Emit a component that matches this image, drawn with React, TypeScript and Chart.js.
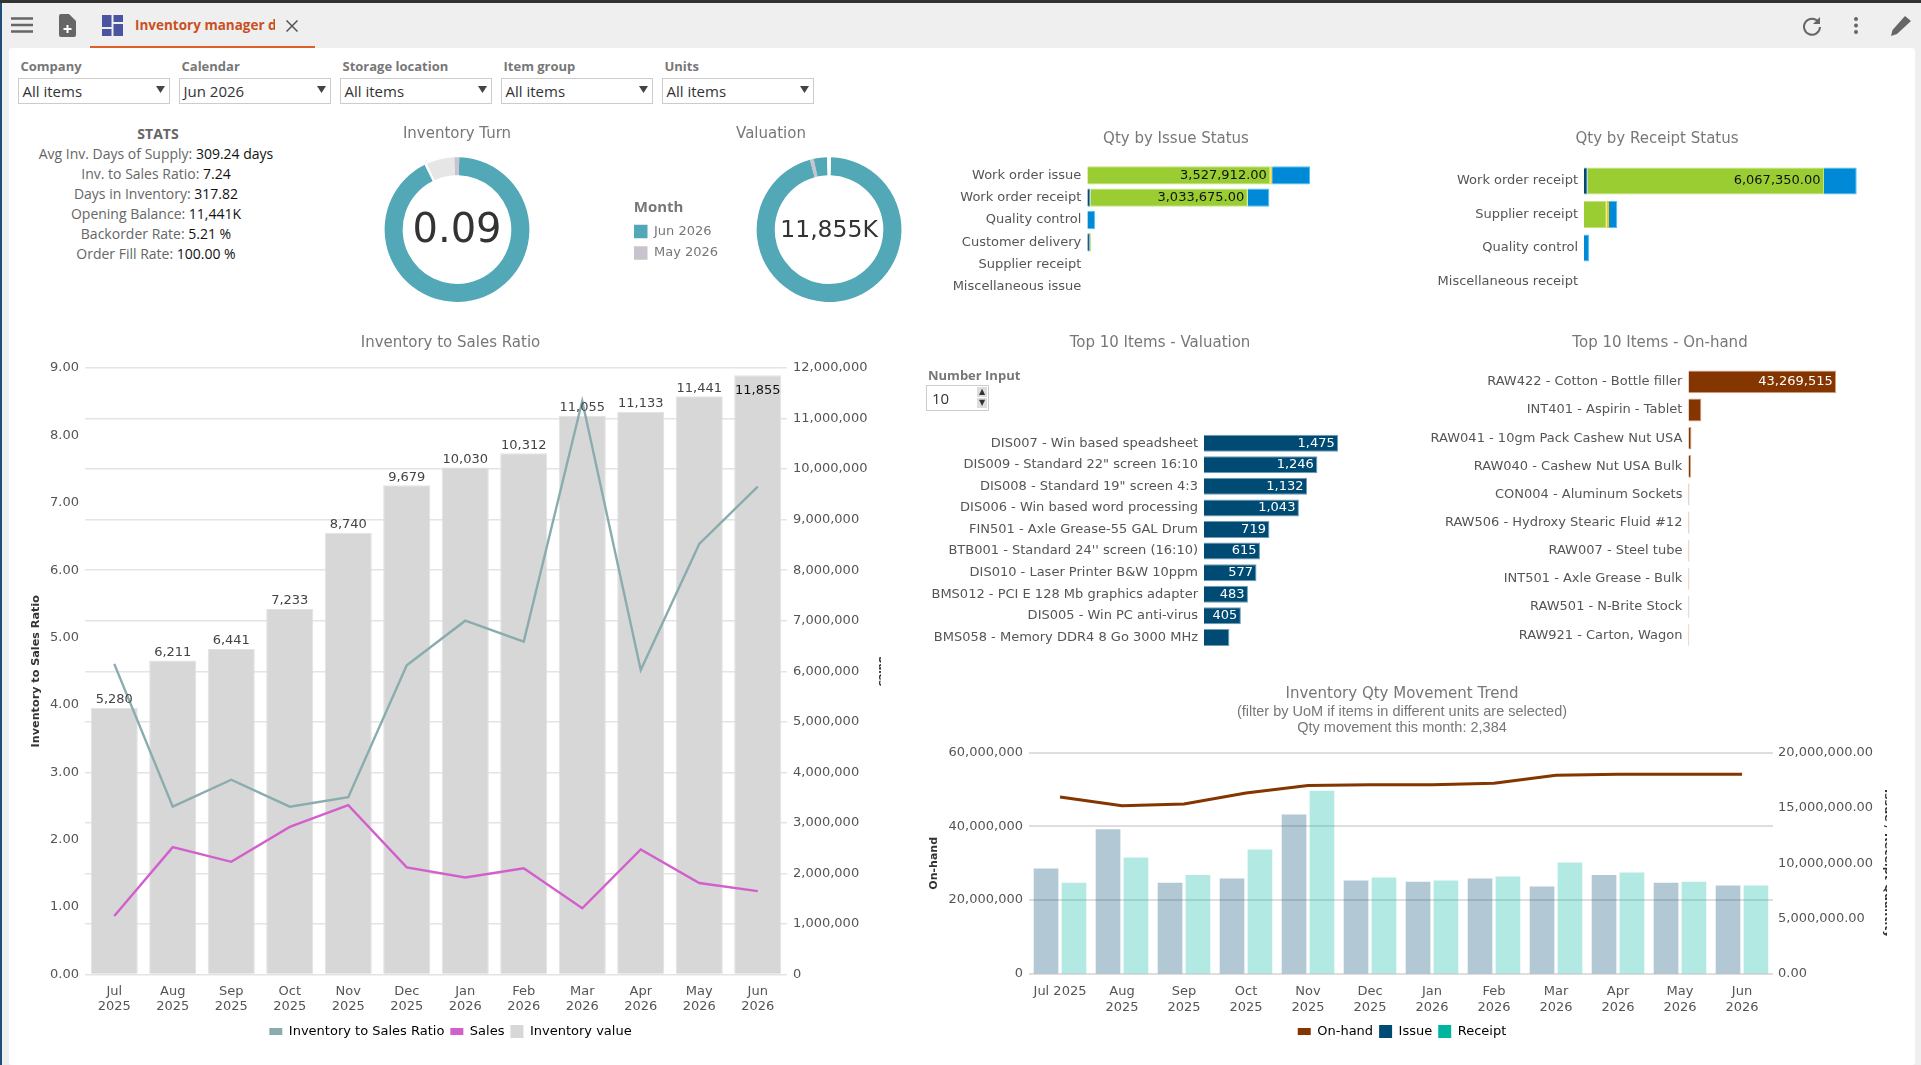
import { useEffect, useRef } from "react"
import { Chart, registerables } from "chart.js"

Chart.register(...registerables)

const FONT = "'DejaVu Sans', sans-serif"
const UI_FONT = "'Open Sans', sans-serif"
Chart.defaults.font.family = FONT
Chart.defaults.font.size = 13
Chart.defaults.color = "#555"

// filters and stats
const filterNames = ["Company", "Calendar", "Storage location", "Item group", "Units"]
const filterValues = ["All items", "Jun 2026", "All items", "All items", "All items"]
const statNames = ["Avg Inv. Days of Supply", "Inv. to Sales Ratio", "Days in Inventory", "Opening Balance", "Backorder Rate", "Order Fill Rate"]
const statValues = ["309.24 days", "7.24", "317.82", "11,441K", "5.21 %", "100.00 %"]

// monthly chart
const months = [["Jul", "2025"], ["Aug", "2025"], ["Sep", "2025"], ["Oct", "2025"], ["Nov", "2025"], ["Dec", "2025"], ["Jan", "2026"], ["Feb", "2026"], ["Mar", "2026"], ["Apr", "2026"], ["May", "2026"], ["Jun", "2026"]]
const ratioValues = [4.61, 2.49, 2.89, 2.49, 2.63, 4.59, 5.25, 4.94, 8.51, 4.52, 6.39, 7.24]
const salesValues = [1158000, 2520000, 2230000, 2920000, 3350000, 2120000, 1920000, 2100000, 1310000, 2475000, 1810000, 1650000]
const inventoryValues = [5280000, 6211000, 6441000, 7233000, 8740000, 9679000, 10030000, 10312000, 11055000, 11133000, 11441000, 11855000]

// donuts
const monthLegend = ["Jun 2026", "May 2026"]
const turnLabels = ["Jun 2026", "", "Rest", "May 2026"]
const turnShares = [331.7, 2, 22.4, 3.9]
const valuationLabels = ["Jun 2026", "May 2026", "Jun 2026", ""]
const valuationShares = [343.2, 3, 10.8, 3]

// issue and receipt status
const issueStatus = ["Work order issue", "Work order receipt", "Quality control", "Customer delivery", "Supplier receipt", "Miscellaneous issue"]
const issueCreated = [0, 60000, 0, 50000, 0, 0]
const issuePosted = [3527912, 3033675, 0, 20000, 0, 0]
const issueMoved = [35000, 0, 0, 0, 0, 0]
const issueOpen = [730000, 416000, 148000, 0, 0, 0]
const receiptStatus = ["Work order receipt", "Supplier receipt", "Quality control", "Miscellaneous receipt"]
const receiptCreated = [92000, 0, 0, 0]
const receiptPosted = [6067350, 582000, 0, 0]
const receiptMoved = [0, 60000, 0, 0]
const receiptOpen = [840000, 213000, 128000, 0]

// top 10
const valuationItems = ["DIS007 - Win based speadsheet", 'DIS009 - Standard 22" screen 16:10', 'DIS008 - Standard 19" screen 4:3', "DIS006 - Win based word processing", "FIN501 - Axle Grease-55 GAL Drum", "BTB001 - Standard 24'' screen (16:10)", "DIS010 - Laser Printer B&W 10ppm", "BMS012 - PCI E 128 Mb graphics adapter", "DIS005 - Win PC anti-virus", "BMS058 - Memory DDR4 8 Go 3000 MHz"]
const valuationAmounts = [1475, 1246, 1132, 1043, 719, 615, 577, 483, 405, 279]
const onHandItems = ["RAW422 - Cotton - Bottle filler", "INT401 - Aspirin - Tablet", "RAW041 - 10gm Pack Cashew Nut USA", "RAW040 - Cashew Nut USA Bulk", "CON004 - Aluminum Sockets", "RAW506 - Hydroxy Stearic Fluid #12", "RAW007 - Steel tube", "INT501 - Axle Grease - Bulk", "RAW501 - N-Brite Stock", "RAW921 - Carton, Wagon"]
const onHandAmounts = [43269515, 3800000, 900000, 800000, 300000, 290000, 280000, 270000, 260000, 250000]

// movement trend
const trendMonths = ["Jul 2025", ["Aug", "2025"], ["Sep", "2025"], ["Oct", "2025"], ["Nov", "2025"], ["Dec", "2025"], ["Jan", "2026"], ["Feb", "2026"], ["Mar", "2026"], ["Apr", "2026"], ["May", "2026"], ["Jun", "2026"]]
const onHandTrend = [48000000, 45600000, 46100000, 49100000, 51100000, 51350000, 51350000, 51700000, 53900000, 54150000, 54150000, 54150000]
const issueTrend = [9530000, 13090000, 8240000, 8630000, 14420000, 8450000, 8330000, 8630000, 7900000, 8930000, 8240000, 7990000]
const receiptTrend = [8240000, 10530000, 8930000, 11250000, 16560000, 8720000, 8450000, 8810000, 10080000, 9170000, 8330000, 7990000]

const fmt = (v: number) => v.toLocaleString("en-US")
const titleOpts = (text: string, top: number, bottom: number) => ({
  display: true,
  text,
  color: "#777",
  font: { size: 15, weight: "normal" },
  padding: { top, bottom },
})
const fixWidth = (w: number) => (s: any) => { s.width = w }
const fixHeight = (h: number) => (s: any) => { s.height = h }
const noGrid = { display: false, drawTicks: false }

// value labels on bars, ctx.fillText from the bar elements
const barLabels = {
  id: "barLabels",
  afterDatasetsDraw(chart: any) {
    const ctx = chart.ctx
    chart.data.datasets.forEach((ds: any, i: number) => {
      if (!ds.barLabel) return
      chart.getDatasetMeta(i).data.forEach((el: any, j: number) => {
        const text = ds.labelFormat(ds.data[j])
        ctx.save()
        ctx.font = "13px " + FONT
        ctx.textBaseline = "middle"
        if (ds.barLabel === "above") {
          ctx.textAlign = "center"
          const inside = el.y - 15 < chart.chartArea.top
          ctx.fillStyle = inside ? "#111" : "#444"
          ctx.fillText(text, el.x, inside ? el.y + 15 : el.y - 8)
        } else {
          const room = Math.abs(el.x - el.base)
          if (ctx.measureText(text).width + 6 <= room) {
            ctx.textAlign = "right"
            ctx.fillStyle = ds.labelColor
            ctx.fillText(text, el.x - 3.5, el.y)
          }
        }
        ctx.restore()
      })
    })
  },
}

const centerText = {
  id: "centerText",
  afterDraw(chart: any) {
    const o = chart.options.plugins.centerText
    const { left, right, top, bottom } = chart.chartArea
    const ctx = chart.ctx
    ctx.save()
    ctx.font = o.size + "px " + FONT
    ctx.fillStyle = "#333"
    ctx.textAlign = "center"
    ctx.textBaseline = "middle"
    ctx.fillText(o.text, (left + right) / 2, (top + bottom) / 2 + o.dy)
    ctx.restore()
  },
}

// valuation title sits left of the ring, over legend and ring together
const shiftTitle = {
  id: "shiftTitle",
  afterLayout(chart: any) {
    chart.titleBlock.left -= 7
    chart.titleBlock.right -= 7
  },
}

const swatchLegend = {
  position: "bottom",
  labels: {
    usePointStyle: true,
    pointStyleWidth: 13,
    boxHeight: 13,
    padding: 6,
    color: "#555",
    generateLabels: (chart: any) =>
      chart.data.datasets.map((d: any, i: number) => ({
        text: d.label,
        pointStyle: "line",
        strokeStyle: d.swatch,
        fillStyle: d.swatch,
        lineWidth: d.type === "line" ? 7 : 13,
        datasetIndex: i,
      })),
  },
}

const inventoryConfig = {
  data: {
    labels: months,
    datasets: [
      { type: "line", label: "Inventory to Sales Ratio", data: ratioValues, yAxisID: "y", borderColor: "#8aacae", swatch: "#8aacae", borderWidth: 2.4, pointRadius: 0, order: 0 },
      { type: "line", label: "Sales", data: salesValues, yAxisID: "y1", borderColor: "#d35fcc", swatch: "#d35fcc", borderWidth: 2.4, pointRadius: 0, order: 0 },
      { type: "bar", label: "Inventory value", data: inventoryValues, yAxisID: "y1", backgroundColor: "#d7d7d7", borderColor: "#e2e2e2", borderWidth: 1, swatch: "#d7d7d7", categoryPercentage: 1, barPercentage: 0.805, order: 1, barLabel: "above", labelFormat: (v: number) => fmt(v / 1000) },
    ],
  },
  options: {
    layout: { autoPadding: false },
    plugins: { title: titleOpts("Inventory to Sales Ratio", 14.5, 15.5), legend: swatchLegend, tooltip: { enabled: false } },
    scales: {
      x: { grid: noGrid, border: { display: false }, ticks: { maxRotation: 0, autoSkip: false, padding: 9 }, afterFit: fixHeight(44.5) },
      y: {
        position: "left", min: 0, max: 9, grid: noGrid, border: { display: false }, afterFit: fixWidth(65),
        ticks: { stepSize: 1, padding: 6, callback: (v: number) => v.toFixed(2) },
        title: { display: true, text: "Inventory to Sales Ratio", color: "#333", font: { size: 11.2, weight: "bold" }, padding: { top: 9.3, bottom: 0 } },
      },
      y1: {
        position: "right", min: 0, max: 12000000, border: { display: false }, afterFit: fixWidth(94),
        grid: { color: "#e4e4e4", lineWidth: 1.5, drawTicks: false },
        ticks: { stepSize: 1000000, padding: 6, callback: (v: number) => fmt(v) },
        title: { display: true, text: "Sales", color: "#333", font: { size: 10, weight: "bold" }, padding: { top: -6.5, bottom: 0 } },
      },
    },
  },
  plugins: [barLabels],
}

const donutConfig = (title: string, labels: string[], shares: number[], colors: string[], rotation: number, text: string, size: number, dy: number, left: number, legend: any, extra: any[]) => ({
  type: "doughnut",
  data: { labels, datasets: [{ data: shares, backgroundColor: colors, borderWidth: 0 }] },
  options: {
    cutout: "75%",
    rotation,
    layout: { padding: { left } },
    plugins: {
      title: titleOpts(title, 10.6, 13.6),
      legend,
      tooltip: { enabled: false },
      centerText: { text, size, dy },
    },
  },
  plugins: [centerText, ...extra],
})

const monthLegendOpts = {
  position: "left",
  fullSize: false,
  title: { display: true, position: "start", text: "\u00a0\u00a0Month", color: "#777", font: { family: UI_FONT, size: 15, weight: "700" }, padding: { top: 8.5, bottom: -1 } },
  labels: {
    boxWidth: 13.5,
    boxHeight: 13.5,
    padding: 8,
    color: "#555",
    generateLabels: () => monthLegend.map((text, i) => ({ text, fillStyle: i === 0 ? "#52a8b7" : "#c8c3cc", strokeStyle: "transparent", lineWidth: 0 })),
  },
}

// hidden value axis for the horizontal bars, kept at zero height
const hiddenX = (max: number, stacked: boolean) => ({
  stacked,
  min: 0,
  max,
  grid: noGrid,
  border: { display: false },
  ticks: { display: false },
  afterFit: fixHeight(0),
})

const stackedConfig = (title: string, labels: string[], series: number[][], axisWidth: number, max: number, percent: number) => {
  const colors = [["#004b74", "#6f9db8"], ["#9acd32", "#c4e27a"], ["#f2c80f", "#f2c80f"], ["#0089d6", "#4ec3ee"]]
  const names = ["Created", "Posted", "Moved", "Open"]
  return {
    type: "bar",
    data: {
      labels,
      datasets: series.map((data, i) => ({
        label: names[i],
        data,
        backgroundColor: colors[i][0],
        borderColor: colors[i][1],
        borderWidth: 1,
        categoryPercentage: 1,
        barPercentage: percent,
        barLabel: i === 1 ? "inside" : undefined,
        labelFormat: (v: number) => v.toLocaleString("en-US", { minimumFractionDigits: 2 }),
        labelColor: "#111",
      })),
    },
    options: {
      indexAxis: "y",
      layout: { autoPadding: false },
      plugins: { title: titleOpts(title, 15.6, 15.6), legend: { display: false }, tooltip: { enabled: false } },
      scales: {
        x: hiddenX(max, true),
        y: { stacked: true, grid: noGrid, border: { display: false }, ticks: { padding: 6, autoSkip: false }, afterFit: fixWidth(axisWidth) },
      },
    },
    plugins: [barLabels],
  }
}

const topConfig = (title: string, labels: string[], data: number[], color: string, edge: string, axisWidth: number, max: number, bottomPad: number, percent: number) => ({
  type: "bar",
  data: {
    labels,
    datasets: [{ label: title, data, backgroundColor: color, borderColor: edge, borderWidth: 1, categoryPercentage: 1, barPercentage: percent, barLabel: "inside", labelFormat: fmt, labelColor: "#fff" }],
  },
  options: {
    indexAxis: "y",
    layout: { autoPadding: false },
    plugins: { title: titleOpts(title, 14.6, bottomPad), legend: { display: false }, tooltip: { enabled: false } },
    scales: {
      x: hiddenX(max, false),
      y: { grid: noGrid, border: { display: false }, ticks: { padding: 6, autoSkip: false }, afterFit: fixWidth(axisWidth) },
    },
  },
  plugins: [barLabels],
})

const trendConfig = {
  data: {
    labels: trendMonths,
    datasets: [
      { type: "line", label: "On-hand", data: onHandTrend, yAxisID: "y", borderColor: "#843500", swatch: "#843500", borderWidth: 3, pointRadius: 0, order: 0 },
      { type: "bar", label: "Issue", data: issueTrend, yAxisID: "y1", backgroundColor: "rgba(0,75,116,0.3)", swatch: "#004b74", categoryPercentage: 0.9, barPercentage: 0.885, order: 1 },
      { type: "bar", label: "Receipt", data: receiptTrend, yAxisID: "y1", backgroundColor: "rgba(0,181,160,0.3)", swatch: "#00b5a0", categoryPercentage: 0.9, barPercentage: 0.885, order: 1 },
    ],
  },
  options: {
    layout: { autoPadding: false },
    plugins: {
      title: titleOpts("Inventory Qty Movement Trend", 10, 0.5),
      subtitle: { display: true, text: ["(filter by UoM if items in different units are selected)", "Qty movement this month: 2,384"], color: "#777", font: { family: "'Liberation Sans', sans-serif", size: 14.5, lineHeight: 1.13 }, padding: { top: 0, bottom: 16.5 } },
      legend: swatchLegend,
      tooltip: { enabled: false },
    },
    scales: {
      x: { grid: noGrid, border: { display: false }, ticks: { maxRotation: 0, autoSkip: false, padding: 10 }, afterFit: fixHeight(45.2) },
      y: {
        position: "left", min: 0, max: 60000000, border: { display: false }, afterFit: fixWidth(112),
        grid: { color: "#dedede", lineWidth: 2, drawTicks: false },
        ticks: { stepSize: 20000000, padding: 6, callback: (v: number) => fmt(v) },
        title: { display: true, text: "On-hand", color: "#333", font: { size: 11, weight: "bold" }, padding: { top: 10.4, bottom: 0 } },
      },
      y1: {
        position: "right", min: 0, max: 20000000, grid: noGrid, border: { display: false }, afterFit: fixWidth(114),
        ticks: { stepSize: 5000000, padding: 5, callback: (v: number) => v.toLocaleString("en-US", { minimumFractionDigits: 2 }) },
        title: { display: true, text: "Issue / Receipt Quantity", color: "#333", font: { size: 11, weight: "bold" }, padding: { top: -7.6, bottom: 0 } },
      },
    },
  },
}

function ChartBox({ config, left, top, width, height }: any) {
  const ref = useRef<HTMLCanvasElement>(null)

  useEffect(() => {
    if (!ref.current) return
    const chart = new Chart(ref.current, {
      ...config,
      options: { ...config.options, animation: false, responsive: false },
    })
    return () => chart.destroy()
  }, [config])

  return <canvas ref={ref} width={width} height={height} style={{ position: "absolute", left, top, width, height }} />
}

const abs = (left: number, top: number, extra: any = {}) => ({ position: "absolute", left, top, ...extra }) as any

function Toolbar() {
  return (
    <>
      <div style={abs(0, 0, { width: 1921, height: 3, background: "#333" })} />
      <svg style={abs(11, 17)} width="22" height="16"><path d="M0 1.5h22M0 8h22M0 14.5h22" stroke="#666" strokeWidth="2.6" /></svg>
      <svg style={abs(58, 14)} width="19" height="23"><path d="M1 2q0-2 2-2h8l7 7v14q0 2-2 2H3q-2 0-2-2z" fill="#666" /><path d="M9.5 11v8M5.5 15h8" stroke="#fff" strokeWidth="2" /></svg>
      <svg style={abs(102, 15)} width="21" height="21">
        <rect width="9.5" height="12" fill="#4a55a2" /><rect x="11.5" width="9.5" height="7" fill="#4a55a2" />
        <rect y="14" width="9.5" height="7" fill="#4a55a2" /><rect x="11.5" y="9" width="9.5" height="12" fill="#4a55a2" />
      </svg>
      <div style={abs(135, 16, { width: 140, overflow: "hidden", whiteSpace: "nowrap", font: `700 13.5px ${UI_FONT}`, color: "#c9501f" })}>Inventory manager dashboard</div>
      <svg style={abs(286, 20)} width="12" height="12"><path d="M0.5 0.5l11 11M11.5 0.5l-11 11" stroke="#555" strokeWidth="1.5" /></svg>
      <div style={abs(90, 46, { width: 225, height: 2, background: "#dd5f2a" })} />
      <svg style={abs(1802, 16)} width="20" height="20"><path d="M16.5 6A8 8 0 1 0 18 11" fill="none" stroke="#666" strokeWidth="2" /><path d="M18 1v7h-7z" fill="#666" /></svg>
      <svg style={abs(1853, 17)} width="6" height="17"><circle cx="3" cy="2" r="2" fill="#666" /><circle cx="3" cy="8.5" r="2" fill="#666" /><circle cx="3" cy="15" r="2" fill="#666" /></svg>
      <svg style={abs(1891, 15)} width="21" height="21"><path d="M0 21l1.5-6L14 1l6 5L6 19z" fill="#666" /></svg>
    </>
  )
}

function Filters() {
  return (
    <>
      {filterNames.map((name, i) => {
        const x = 18 + i * 161
        return (
          <div key={name}>
            <div style={abs(x + 2.5, 57, { font: `700 13px ${UI_FONT}`, color: "#777" })}>{name}</div>
            <div style={abs(x, 77.5, { width: 152, height: 26, boxSizing: "border-box", border: "1.5px solid #ccc", font: `15px ${UI_FONT}`, color: "#333", lineHeight: "24px", paddingLeft: 3.5 })}>
              {filterValues[i]}
              <svg style={abs(137, 7)} width="9" height="7"><path d="M0 0h9L4.5 7z" fill="#444" /></svg>
            </div>
          </div>
        )
      })}
    </>
  )
}

function Stats() {
  return (
    <div style={abs(36, 124, { width: 240, textAlign: "center", font: `14px/20px ${UI_FONT}`, color: "#666", whiteSpace: "nowrap" })}>
      <div style={{ fontWeight: 700, color: "#666", paddingLeft: 4 }}>STATS</div>
      {statNames.map((name, i) => (
        <div key={name}>{name}: <span style={{ color: "#111" }}>{statValues[i]}</span></div>
      ))}
    </div>
  )
}

function NumberInput() {
  return (
    <>
      <div style={abs(928, 366, { font: `700 13px ${UI_FONT}`, color: "#777" })}>Number Input</div>
      <div style={abs(926, 385, { width: 62.5, height: 26, boxSizing: "border-box", border: "1.5px solid #ccc", font: `15px ${UI_FONT}`, color: "#333", lineHeight: "24px", paddingLeft: 5 })}>
        10
        <div style={abs(50, 1, { width: 10, height: 10, background: "#ddd", font: `8px/10px ${FONT}`, textAlign: "center", paddingLeft: 0 })}>▲</div>
        <div style={abs(50, 12, { width: 10, height: 10, background: "#ddd", font: `8px/10px ${FONT}`, textAlign: "center" })}>▼</div>
      </div>
    </>
  )
}

const turnConfig = donutConfig("Inventory Turn", turnLabels, turnShares, ["#52a8b7", "#ffffff", "#e6e6e6", "#c8c3cc"], 1.8, "0.09", 40, 2, 0, { display: false }, [])
const valuationConfig = donutConfig("Valuation", valuationLabels, valuationShares, ["#52a8b7", "#c8c3cc", "#52a8b7", "#ffffff"], 1.5, "11,855K", 23.5, 1, 26, monthLegendOpts, [shiftTitle])
const issueConfig = stackedConfig("Qty by Issue Status", issueStatus, [issueCreated, issuePosted, issueMoved, issueOpen], 137.3, 6066000, 0.82)
const receiptConfig = stackedConfig("Qty by Receipt Status", receiptStatus, [receiptCreated, receiptPosted, receiptMoved, receiptOpen], 164, 7956000, 0.81)
const topValueConfig = topConfig("Top 10 Items - Valuation", valuationItems, valuationAmounts, "#004b74", "#6f9db8", 284, 2154, 79.8, 0.79)
const topOnHandConfig = topConfig("Top 10 Items - On-hand", onHandItems, onHandAmounts, "#843500", "#d7a98b", 268.4, 61950000, 15.2, 0.81)

export default function App() {
  useEffect(() => {
    document.body.style.margin = "0"
    document.body.style.overflow = "hidden"
  }, [])

  return (
    <div style={{ position: "relative", width: 1921, height: 1065, overflow: "hidden", background: "#efefef" }}>
      <div style={abs(0, 0, { width: 2, height: 1065, background: "#1f4e79" })} />
      <div style={abs(9, 48, { width: 1906, height: 1017, background: "#fff", borderRadius: 3 })} />
      <Toolbar />
      <Filters />
      <Stats />
      <ChartBox config={turnConfig} left={357} top={115} width={200} height={187} />
      <ChartBox config={valuationConfig} left={600} top={115} width={330} height={187} />
      <ChartBox config={issueConfig} left={950} top={115} width={452} height={197} />
      <ChartBox config={receiptConfig} left={1420} top={115} width={474} height={197} />
      <ChartBox config={inventoryConfig} left={20} top={320} width={861} height={728} />
      <ChartBox config={topValueConfig} left={920} top={320} width={480} height={342} />
      <ChartBox config={topOnHandConfig} left={1420} top={320} width={480} height={343} />
      <ChartBox config={trendConfig} left={917} top={675} width={970} height={373} />
      <NumberInput />
    </div>
  )
}
